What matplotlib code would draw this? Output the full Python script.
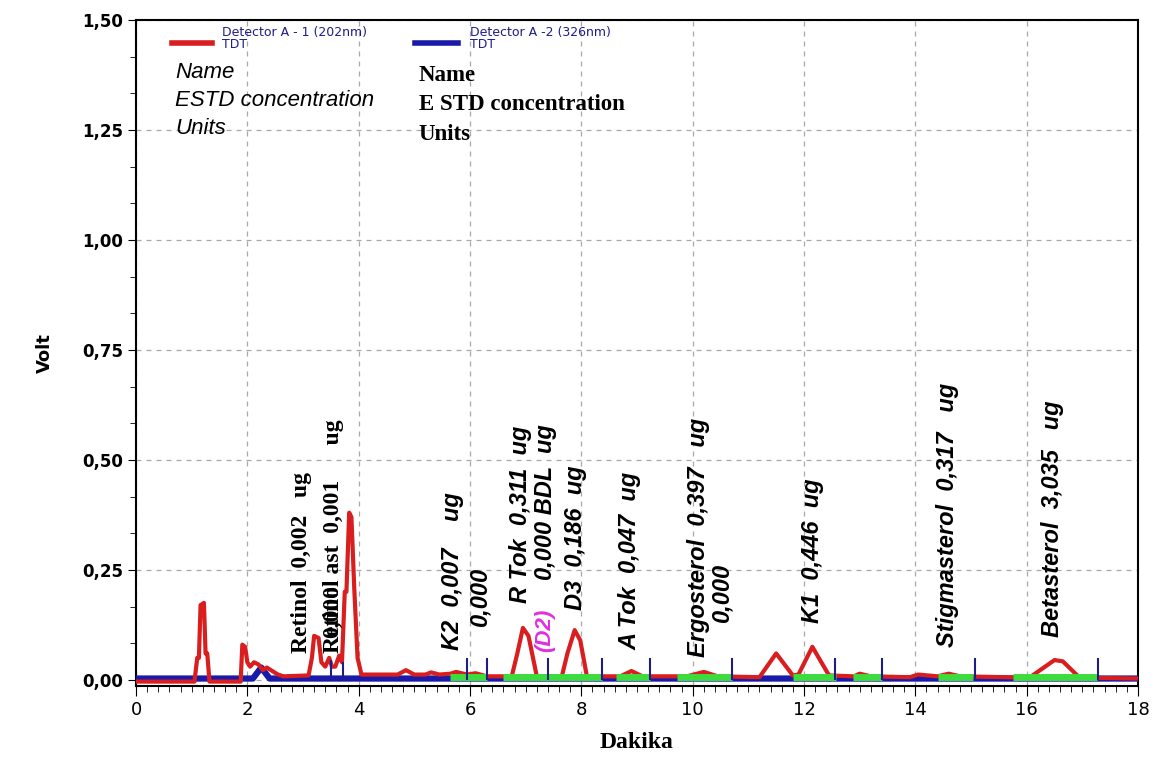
import numpy as np
import matplotlib.pyplot as plt
from matplotlib.ticker import MultipleLocator, FuncFormatter

# DATA ------------------------------------------------------------------------
# Detector A - 1 (202nm) trace (time [min], signal [V])
red_t = [0, 1.05, 1.1, 1.13, 1.16, 1.22, 1.25, 1.28, 1.32, 1.88, 1.91, 1.96,
         2.0, 2.05, 2.12, 2.2, 2.28, 2.35, 2.45, 2.55, 2.65, 3.1, 3.16, 3.2,
         3.28, 3.33, 3.4, 3.47, 3.52, 3.58, 3.65, 3.7, 3.75, 3.78, 3.83, 3.87,
         3.92, 3.98, 4.05, 4.7, 4.85, 5.0, 5.2, 5.3, 5.45, 5.65, 5.75, 5.95,
         6.1, 6.3, 6.75, 6.85, 6.95, 7.05, 7.2, 7.65, 7.75, 7.88, 7.98, 8.1,
         8.7, 8.9, 9.1, 9.9, 10.2, 10.45, 11.2, 11.5, 11.8, 11.9, 12.15, 12.45,
         12.9, 13.0, 13.2, 13.9, 14.05, 14.4, 14.6, 14.8, 16.05, 16.5, 16.65,
         16.95, 18]
red_v = [-0.004, -0.004, 0.05, 0.05, 0.17, 0.175, 0.06, 0.06, -0.004, -0.004,
         0.08, 0.075, 0.04, 0.03, 0.04, 0.035, 0.022, 0.028, 0.02, 0.012,
         0.008, 0.01, 0.05, 0.1, 0.095, 0.04, 0.03, 0.05, 0.03, 0.03, 0.055,
         0.04, 0.2, 0.2, 0.38, 0.37, 0.21, 0.05, 0.012, 0.012, 0.022, 0.012,
         0.012, 0.017, 0.012, 0.014, 0.018, 0.012, 0.015, 0.008, 0.008, 0.06,
         0.118, 0.1, 0.008, 0.008, 0.06, 0.113, 0.09, 0.008, 0.008, 0.02,
         0.008, 0.008, 0.018, 0.008, 0.006, 0.06, 0.01, 0.012, 0.075, 0.01,
         0.008, 0.014, 0.008, 0.006, 0.012, 0.008, 0.014, 0.008, 0.005, 0.045,
         0.042, 0.005, 0.003]

# Detector A - 2 (326nm) trace
blue_t = [0, 2.1, 2.25, 2.4, 18]
blue_v = [0.003, 0.003, 0.028, 0.003, 0.003]

# integration baselines (green) and peak delimiters
base_start = [5.64, 6.6, 8.63, 9.71, 11.8, 12.88, 14.4, 15.76]
base_end = [6.3, 8.37, 9.23, 10.7, 12.58, 13.4, 15.04, 17.26]
base_level = 0.006
delim_t = [3.51, 3.72, 5.94, 6.30, 7.40, 8.37, 9.23, 10.70, 12.56, 13.41, 15.07, 17.29]
delim_h = [0.045, 0.04, 0.05, 0.05, 0.05, 0.05, 0.05, 0.05, 0.05, 0.05, 0.05, 0.05]

# peak annotations: text, time, bottom of text (V)
peak_text = ['K2  0,007    ug', '0,000', 'R Tok  0,311  ug', '0,000 BDL  ug',
             'D3  0,186  ug', 'A Tok  0,047  ug', 'Ergosterol  0,397   ug', '0,000',
             'K1  0,446  ug', 'Stigmasterol  0,317   ug', 'Betasterol  3,035   ug']
peak_x = [5.69, 6.18, 6.90, 7.35, 7.89, 8.87, 10.10, 10.53, 12.15, 14.57, 16.46]
peak_y = [0.068, 0.12, 0.175, 0.227, 0.159, 0.068, 0.052, 0.13, 0.13, 0.075, 0.098]

serif_text = ['Retinol  0,002   ug', 'Retinol ast  0,001      ug', '0,000']
serif_x = [2.98, 3.54, 3.54]
serif_y = [0.061, 0.061, 0.094]

xticks = np.arange(0, 19, 2)
yticks = [0, 0.25, 0.5, 0.75, 1.0, 1.25, 1.5]

RED = '#d81e1e'
BLUE = '#1a1aa8'
GREEN = '#3cdc3c'
NAVY = '#1c1c8c'

fig = plt.figure(figsize=(11.58, 7.57), dpi=100)
ax = fig.add_axes([136/1158, 71/757, 1002/1158, 666/757])

ax.plot(blue_t, blue_v, color=BLUE, lw=4.5, zorder=3)
ax.plot(red_t, red_v, color=RED, lw=3, zorder=4)
ax.hlines([base_level]*len(base_start), base_start, base_end, color=GREEN, lw=5, zorder=5)
ax.vlines(delim_t, 0, delim_h, color=NAVY, lw=1.5, zorder=6)

for s, x, y in zip(peak_text, peak_x, peak_y):
    ax.text(x, y, s, rotation=90, ha='center', va='bottom', fontsize=17,
            family='Liberation Sans', style='italic', weight='bold', zorder=7)
ax.text(7.35, 0.064, '(D2)', rotation=90, ha='center', va='bottom', fontsize=16,
        family='Liberation Sans', style='italic', weight='bold', color='#e02ee0', zorder=7)
for s, x, y in zip(serif_text, serif_x, serif_y):
    ax.text(x, y, s, rotation=90, ha='center', va='bottom', fontsize=17,
            family='Liberation Serif', weight='bold', zorder=7)

# legend block
ax.plot([0.036, 0.076], [0.965, 0.965], transform=ax.transAxes, color=RED, lw=4)
ax.plot([0.278, 0.321], [0.965, 0.965], transform=ax.transAxes, color=BLUE, lw=4)
ax.text(0.086, 0.972, 'Detector A - 1 (202nm)\nTDT', transform=ax.transAxes,
        fontsize=9, color=NAVY, va='center', linespacing=0.85)
ax.text(0.333, 0.972, 'Detector A -2 (326nm)\nTDT', transform=ax.transAxes,
        fontsize=9, color=NAVY, va='center', linespacing=0.85)
ax.text(0.039, 0.937, 'Name\nESTD concentration\nUnits', transform=ax.transAxes,
        fontsize=16, family='Liberation Sans', style='italic', va='top', linespacing=1.45)
ax.text(0.282, 0.933, 'Name\nE STD concentration\nUnits', transform=ax.transAxes,
        fontsize=16.5, family='Liberation Serif', weight='bold', va='top', linespacing=1.55)

ax.set_xlim(0, 18)
ax.set_ylim(-0.014, 1.5)
ax.set_xticks(xticks)
ax.set_yticks(yticks)
ax.xaxis.set_minor_locator(MultipleLocator(0.2))
ax.yaxis.set_minor_locator(MultipleLocator(0.25/3))
ax.yaxis.set_major_formatter(FuncFormatter(lambda v, p: '{:.2f}'.format(v).replace('.', ',')))
ax.tick_params(axis='x', which='major', length=7, labelsize=13)
ax.tick_params(axis='y', which='major', length=6, labelsize=12)
for lab in ax.get_yticklabels():
    lab.set_fontweight('bold')
ax.tick_params(which='minor', length=4)
ax.grid(True, which='major', linestyle=(0, (4, 4)), color='#a8a8a8', lw=0.9)
for sp in ax.spines.values():
    sp.set_linewidth(1.5)

ax.set_ylabel('Volt', fontsize=13, weight='bold', labelpad=20)
ax.set_xlabel('Dakika', fontsize=17, family='Liberation Serif', weight='bold', labelpad=10)

fig.savefig('out.png', dpi=100)
